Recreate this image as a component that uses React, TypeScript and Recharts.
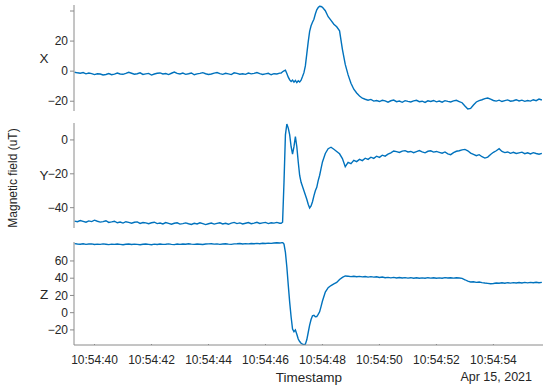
import { LineChart, Line, XAxis, YAxis } from "recharts";

// sample times, seconds after 10:54:00
const TIME = [
  39.3, 39.4, 39.5, 39.6, 39.7, 39.8, 39.9, 40.0, 40.1, 40.2,
  40.3, 40.4, 40.5, 40.6, 40.7, 40.8, 40.9, 41.0, 41.1, 41.2,
  41.3, 41.4, 41.5, 41.6, 41.7, 41.8, 41.9, 42.0, 42.1, 42.2,
  42.3, 42.4, 42.5, 42.6, 42.7, 42.8, 42.9, 43.0, 43.1, 43.2,
  43.3, 43.4, 43.5, 43.6, 43.7, 43.8, 43.9, 44.0, 44.1, 44.2,
  44.3, 44.4, 44.5, 44.6, 44.7, 44.8, 44.9, 45.0, 45.1, 45.2,
  45.3, 45.4, 45.5, 45.6, 45.7, 45.8, 45.9, 46.0, 46.1, 46.2,
  46.3, 46.4, 46.5,
  46.55, 46.6, 46.65, 46.7, 46.75, 46.8, 46.85, 46.9, 46.95, 47.0,
  47.05, 47.1, 47.15, 47.2, 47.25, 47.3, 47.35, 47.4, 47.45, 47.5,
  47.55, 47.6, 47.65, 47.7, 47.75, 47.8, 47.85, 47.9, 47.95, 48.0,
  48.1, 48.2, 48.3, 48.4, 48.5, 48.6, 48.7, 48.8, 48.9, 49.0,
  49.1, 49.2, 49.3, 49.4, 49.5, 49.6, 49.7, 49.8, 49.9, 50.0,
  50.1, 50.2, 50.3, 50.4, 50.5, 50.6, 50.7, 50.8, 50.9, 51.0,
  51.1, 51.2, 51.3, 51.4, 51.5, 51.6, 51.7, 51.8, 51.9, 52.0,
  52.1, 52.2, 52.3, 52.4, 52.5, 52.6, 52.7, 52.8, 52.9, 53.0,
  53.1, 53.2, 53.3, 53.4, 53.5, 53.6, 53.7, 53.8, 53.9, 54.0,
  54.1, 54.2, 54.3, 54.4, 54.5, 54.6, 54.7, 54.8, 54.9, 55.0,
  55.1, 55.2, 55.3, 55.4, 55.5, 55.6, 55.7,
];

const FIELD_X = [
  -0.7, -1.1, -1.4, -0.9, -1.8, -1.2, -1.6, -2.3, -1.7, -1.9,
  -2.5, -2.2, -1.6, -2.4, -2.0, -1.3, -1.9, -2.1, -1.5, -0.8,
  -1.4, -2.0, -1.7, -1.1, -2.2, -1.8, -1.5, -2.6, -1.9, -1.4,
  -1.2, -1.9, -1.6, -2.3, -1.4, -0.6, -1.5, -1.9, -1.3, -2.1,
  -1.7, -1.2, -2.4, -1.8, -1.5, -1.0, -1.7, -2.2, -1.9, -1.3,
  -0.9, -1.6, -2.1, -1.4, -1.8, -2.3, -1.1, -1.5, -2.0, -1.7,
  -2.1, -1.3, -1.8, -1.5, -0.9, -1.6, -2.2, -1.8, -1.4, -2.4,
  -1.7, -1.9, -1.3,
  -1.2, -0.4, 0.2, 0.6, -1.5, -4.0, -5.8, -6.9, -6.0, -7.3,
  -6.2, -7.6, -6.4, -7.2, -6.0, -3.6, -1.0, 3.5, 11.5, 19.5,
  26.5, 30.2, 32.5, 34.5, 38.0, 40.8, 42.3, 43.2, 43.0, 42.4,
  40.2, 36.2, 33.8, 31.2, 29.5, 26.8, 14.5, 4.5, -2.5, -8.0,
  -12.0, -14.5, -16.5, -18.0, -18.7, -19.3, -18.8, -19.9, -19.5, -20.2,
  -19.4, -19.8, -20.6, -19.7, -19.2, -20.3, -19.9, -20.7, -19.6, -20.1,
  -20.5, -19.8, -19.4, -20.3, -20.0, -20.8, -19.7, -20.2, -19.5, -20.4,
  -19.9, -20.6, -19.6, -20.1, -20.5, -19.8, -19.4, -20.2, -21.0, -23.2,
  -25.2, -24.8, -22.5, -20.5, -19.6, -19.0, -18.3, -17.9, -18.6, -19.5,
  -19.9, -19.3, -20.2, -19.6, -19.1, -20.0, -19.7, -19.0, -19.8, -19.3,
  -20.1, -19.5, -19.9, -19.0, -19.6, -18.6, -19.2,
];

const FIELD_Y = [
  -47.9, -48.3, -47.6, -48.1, -48.6, -47.8, -48.2, -47.4, -48.0, -48.5,
  -48.2, -47.7, -48.7, -48.4, -48.0, -48.9, -48.5, -49.1, -48.3, -48.7,
  -49.2, -48.6, -48.4, -49.3, -48.8, -49.0, -49.5, -48.9, -48.6, -49.4,
  -49.1, -49.6, -48.8, -49.3, -49.8, -49.2, -48.9, -49.7, -49.4, -49.0,
  -49.5, -49.9, -49.2, -49.6, -48.9, -49.4, -50.0, -49.5, -49.1, -49.7,
  -49.3, -48.9, -49.6, -49.2, -49.8, -49.1, -48.7, -49.4, -49.0, -49.6,
  -49.2, -48.8, -49.5, -49.1, -48.6, -49.3, -49.0, -48.7, -49.4, -48.9,
  -49.1, -48.7, -49.2,
  -49.2, -48.6, -25.0, 3.0, 9.4, 7.0, 3.0, -4.0, -8.3, -4.0,
  2.0, -4.0, -13.0, -21.0, -25.0, -27.5, -30.0, -32.5, -35.0, -38.0,
  -40.2, -39.0, -36.5, -33.0, -30.0, -28.0, -24.0, -21.0, -17.0, -13.0,
  -8.0, -5.2, -4.3, -5.5, -6.8, -8.2, -11.0, -15.8, -13.2, -14.0,
  -12.0, -12.8, -11.5, -12.2, -10.8, -11.5, -10.2, -10.9, -9.6, -10.3,
  -9.0, -9.6, -8.4, -7.6, -6.5, -6.9, -7.4, -6.6, -6.3, -7.1,
  -6.8, -7.5, -6.9, -6.3, -7.0, -7.6, -6.7, -6.4, -7.2, -6.8,
  -7.3, -7.8, -7.1, -8.2, -8.7, -7.5, -6.7, -6.4, -5.9, -5.6,
  -6.4, -7.8, -8.5, -9.3, -8.7, -9.9, -10.7, -10.1, -8.6, -7.3,
  -6.4, -5.2, -6.8, -7.5, -7.1, -7.9, -7.3, -8.0, -7.6, -7.2,
  -8.1, -7.6, -8.3, -7.5, -8.0, -8.4, -7.9,
];

const FIELD_Z = [
  80.1, 79.7, 79.4, 79.9, 79.2, 79.6, 79.8, 79.1, 79.5, 79.3,
  79.8, 79.4, 79.0, 79.5, 79.2, 79.7, 79.3, 78.9, 79.4, 79.6,
  79.1, 79.5, 79.2, 78.8, 79.4, 79.7, 79.3, 78.9, 79.5, 79.1,
  79.6, 79.2, 79.4, 79.8, 79.3, 79.0, 79.6, 79.2, 79.7, 79.4,
  79.9, 79.5, 79.2, 79.7, 79.4, 79.1, 79.6, 79.8, 80.0, 79.5,
  79.8, 79.3, 79.7, 79.9, 79.5, 79.2, 79.8, 80.0, 80.3, 79.7,
  80.1, 79.8, 80.2, 79.9, 80.4, 80.0, 80.5, 80.2, 80.7, 80.4,
  80.9, 81.2, 80.9,
  81.0, 81.5, 79.5, 70.0, 53.0, 32.0, 12.0, -5.0, -19.0, -22.0,
  -20.0, -25.0, -30.5, -33.5, -35.5, -36.5, -37.0, -36.5, -31.5, -23.0,
  -14.5, -8.0, -3.5, -3.0, -4.8, -4.5, -2.0, 1.0, 7.0, 13.5,
  24.0, 29.0, 31.5, 33.5, 35.0, 38.5, 41.0, 42.6, 42.2, 41.8,
  42.3, 41.7, 42.1, 41.5, 41.9, 41.3, 41.8, 41.2, 41.6, 40.9,
  41.3, 40.6, 41.0, 40.4, 40.9, 40.3, 40.8, 40.2, 40.7, 40.1,
  40.6, 40.0, 40.5, 39.9, 40.4, 40.0, 40.6, 40.1, 40.5, 39.9,
  40.4, 40.0, 40.7, 40.2, 40.6, 40.1, 40.5, 40.2, 39.8, 38.2,
  36.5, 35.6, 35.9, 35.2, 35.6, 34.9, 34.4, 34.0, 33.6, 33.9,
  34.5, 34.1, 34.7, 34.2, 34.8, 34.3, 34.9, 34.4, 35.0, 34.5,
  35.1, 34.6, 35.2, 34.7, 35.3, 34.8, 35.2,
];

const TIME_TICKS = [40, 42, 44, 46, 48, 50, 52, 54];
const X_TICKS = [-20, 0, 20, 40];
const X_LABELLED = [-20, 0, 20];
const Y_TICKS = [-40, -20, 0];
const Z_TICKS = [-20, 0, 20, 40, 60];

const rows = TIME.map((t, i) => ({ t, x: FIELD_X[i], y: FIELD_Y[i], z: FIELD_Z[i] }));

const FONT = "'Liberation Sans', Arial, Helvetica, sans-serif";
const TEXT = "#262626";
const AXIS = "#8a8a8a";
const LINE = "#0072BD";
const T_DOMAIN = [39.28, 55.74];
const PLOT_LEFT = 74;
const PLOT_RIGHT_GAP = 7;

const fmtValue = (v: number) => (v < 0 ? `\u2212${Math.abs(v)}` : String(v));

const TimeTick = (props: any) => {
  const { x, y, payload } = props;
  return (
    <g>
      <line x1={x} x2={x} y1={y - 10} y2={y - 14} stroke={AXIS} />
      <text x={x} y={y} dy="0.71em" textAnchor="middle" fill={TEXT} fontSize={12} fontFamily={FONT}>
        {`10:54:${payload.value}`}
      </text>
    </g>
  );
};

// value tick: outward tick line plus right-aligned label
const makeValueTick = (labelled: number[]) => (props: any) => {
  const { x, y, payload } = props;
  const show = labelled.includes(payload.value);
  return (
    <g>
      <line x1={x + 2} x2={x + 6} y1={y} y2={y} stroke={AXIS} />
      {show && (
        <text x={x} y={y} dy="0.35em" textAnchor="end" fill={TEXT} fontSize={12} fontFamily={FONT}>
          {fmtValue(payload.value)}
        </text>
      )}
    </g>
  );
};

interface PanelProps {
  dataKey: string;
  domain: number[];
  ticks: number[];
  labelled: number[];
  top: number;
  plotHeight: number;
}

const Panel = ({ dataKey, domain, ticks, labelled, top, plotHeight }: PanelProps) => {
  const ValueTick = makeValueTick(labelled);
  return (
    <div style={{ position: "absolute", left: 0, top }}>
      <LineChart
        width={550}
        height={plotHeight}
        data={rows}
        margin={{ top: 0, right: PLOT_RIGHT_GAP, bottom: 0, left: 0 }}
      >
        <XAxis dataKey="t" type="number" domain={T_DOMAIN} hide />
        <YAxis
          type="number"
          domain={domain}
          ticks={ticks}
          interval={0}
          width={PLOT_LEFT}
          tickSize={0}
          tickMargin={6}
          axisLine={{ stroke: AXIS }}
          tickLine={false}
          tick={<ValueTick />}
        />
        <Line
          type="linear"
          dataKey={dataKey}
          stroke={LINE}
          strokeWidth={1.4}
          dot={false}
          isAnimationActive={false}
        />
      </LineChart>
    </div>
  );
};

// shared time axis under the Z panel
const TimeAxis = ({ top }: { top: number }) => (
  <div style={{ position: "absolute", left: 0, top }}>
    <LineChart
      width={550}
      height={41}
      data={rows}
      margin={{ top: 0, right: PLOT_RIGHT_GAP, bottom: 0, left: PLOT_LEFT }}
    >
      <XAxis
        dataKey="t"
        type="number"
        domain={T_DOMAIN}
        ticks={TIME_TICKS}
        interval={0}
        height={40}
        axisLine={{ stroke: AXIS }}
        tickLine={false}
        tickSize={0}
        tickMargin={10}
        tick={<TimeTick />}
      />
      <YAxis type="number" domain={[0, 1]} hide />
      <Line dataKey="z" stroke="none" dot={false} isAnimationActive={false} />
    </LineChart>
  </div>
);

export default function App() {
  return (
    <div style={{ position: "absolute", left: 0, top: 0, width: 550, height: 388, background: "#fff" }}>
      <Panel dataKey="x" domain={[-26.5, 44]} ticks={X_TICKS} labelled={X_LABELLED} top={5} plotHeight={106} />
      <Panel dataKey="y" domain={[-52, 10]} ticks={Y_TICKS} labelled={Y_TICKS} top={123} plotHeight={105} />
      <Panel dataKey="z" domain={[-37.5, 82]} ticks={Z_TICKS} labelled={Z_TICKS} top={242} plotHeight={103} />
      <TimeAxis top={344} />
      <svg
        width={550}
        height={388}
        style={{ position: "absolute", left: 0, top: 0, pointerEvents: "none" }}
        fontFamily={FONT}
        fill={TEXT}
      >
        <text x={44} y={58} fontSize={13.5} textAnchor="middle" dominantBaseline="central">X</text>
        <text x={44} y={175} fontSize={13.5} textAnchor="middle" dominantBaseline="central">Y</text>
        <text x={44} y={294} fontSize={13.5} textAnchor="middle" dominantBaseline="central">Z</text>
        <text
          x={13}
          y={178}
          fontSize={12}
          textAnchor="middle"
          dominantBaseline="central"
          transform="rotate(-90 13 178)"
        >
          Magnetic field (uT)
        </text>
        <text x={309} y={377} fontSize={13.5} textAnchor="middle" dominantBaseline="central">Timestamp</text>
        <text x={532} y={377} fontSize={12.5} textAnchor="end" dominantBaseline="central">Apr 15, 2021</text>
      </svg>
    </div>
  );
}
